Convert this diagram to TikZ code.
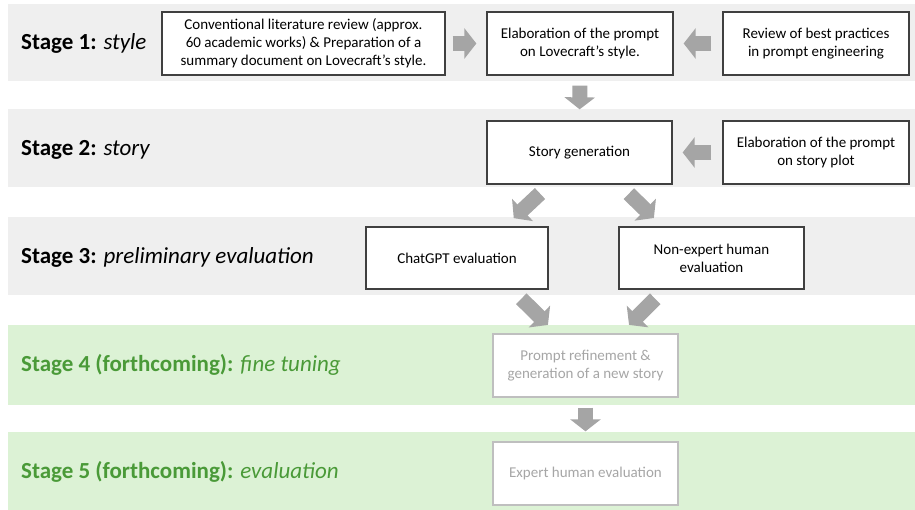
\documentclass[tikz,border=0pt]{standalone}
\usepackage{fontspec}
\setmainfont{Carlito}
\usetikzlibrary{arrows.meta}
\definecolor{bandgray}{HTML}{EFEFEF}
\definecolor{bandgreen}{HTML}{DCF2D5}
\definecolor{arrgray}{HTML}{A5A5A5}
\definecolor{boxline}{HTML}{404040}
\definecolor{fadeline}{HTML}{BFBFBF}
\definecolor{fadetext}{HTML}{A6A6A6}
\definecolor{stagegreen}{HTML}{4A9A38}
\tikzstyle{band}=[draw=none]
\tikzstyle{bx}=[draw=boxline,line width=1.3pt,fill=white,align=center,inner sep=2pt,font=\fontsize{15}{18}\selectfont]
\tikzstyle{bxf}=[bx,draw=fadeline,text=fadetext]
\tikzstyle{stg}=[anchor=west,inner sep=0pt,font=\fontsize{23}{27}\selectfont]
\tikzstyle{blk}=[draw=arrgray,line width=15pt,-{Triangle[width=30pt,length=12pt]}]

\begin{document}
\begin{tikzpicture}[x=1pt,y=-1pt]
\useasboundingbox (0,0) rectangle (915,510);
\fill[band,bandgray] (8,4) rectangle (915,81);
\fill[band,bandgray] (8,109) rectangle (915,187);
\fill[band,bandgray] (8,217) rectangle (915,295);
\fill[band,bandgreen] (8,325) rectangle (915,405);
\fill[band,bandgreen] (8,432) rectangle (915,510);
\node[stg] (s1) at (21,43) {\textbf{Stage 1:} \textit{style}};
\node[stg] (s2) at (21,150) {\textbf{Stage 2:} \textit{story}};
\node[stg] (s3) at (21,257) {\textbf{Stage 3:} \textit{preliminary evaluation}};
\node[stg,text=stagegreen] (s4) at (21,365) {\textbf{Stage 4 (forthcoming):} \textit{fine tuning}};
\node[stg,text=stagegreen] (s5) at (21,472) {\textbf{Stage 5 (forthcoming):} \textit{evaluation}};
\node[bx,minimum width=283pt,minimum height=63pt] (lit) at (303.5,43.5) {Conventional literature review (approx.\\60 academic works) \& Preparation of a\\summary document on Lovecraft's style.};
\node[bx,minimum width=186pt,minimum height=63pt] (prst) at (580,43.5) {Elaboration of the prompt\\on Lovecraft's style.};
\node[bx,minimum width=186pt,minimum height=63pt] (best) at (816,43.5) {Review of best practices\\in prompt engineering};
\node[bx,minimum width=185pt,minimum height=63pt] (gen) at (579.5,152.5) {Story generation};
\node[bx,minimum width=186pt,minimum height=63pt] (plot) at (816,152.5) {Elaboration of the prompt\\on story plot};
\node[bx,minimum width=182pt,minimum height=62pt] (gpt) at (457,258) {ChatGPT evaluation};
\node[bx,minimum width=185pt,minimum height=62pt] (nonexp) at (711.5,258) {Non-expert human\\evaluation};
\node[bxf,minimum width=185pt,minimum height=63pt] (refine) at (585.5,365.5) {Prompt refinement \&\\generation of a new story};
\node[bxf,minimum width=185pt,minimum height=63pt] (expert) at (585.5,473.5) {Expert human evaluation};
\draw[blk,shorten <=7pt,shorten >=10pt] (lit.east) -- (prst.west);
\draw[blk,shorten <=11pt,shorten >=10pt] (best.west) -- (prst.east);
\draw[blk,shorten <=10pt,shorten >=11pt] (prst.south) -- (gen.north);
\draw[blk,shorten <=11pt,shorten >=10pt] (plot.west) -- (gen.east);
\draw[blk,shorten <=13pt,shorten >=12pt] ([xshift=-30pt]gen.south) -- ([xshift=48pt]gpt.north);
\draw[blk,shorten <=13pt,shorten >=12pt] ([xshift=40pt]gen.south) -- ([xshift=-49pt]nonexp.north);
\draw[blk,shorten <=13pt,shorten >=12pt] ([xshift=55pt]gpt.south) -- ([xshift=-29pt]refine.north);
\draw[blk,shorten <=13pt,shorten >=12pt] ([xshift=-47pt]nonexp.south) -- ([xshift=35pt]refine.north);
\draw[blk,shorten <=10pt,shorten >=10pt] (refine.south) -- (expert.north);
\end{tikzpicture}
\end{document}
